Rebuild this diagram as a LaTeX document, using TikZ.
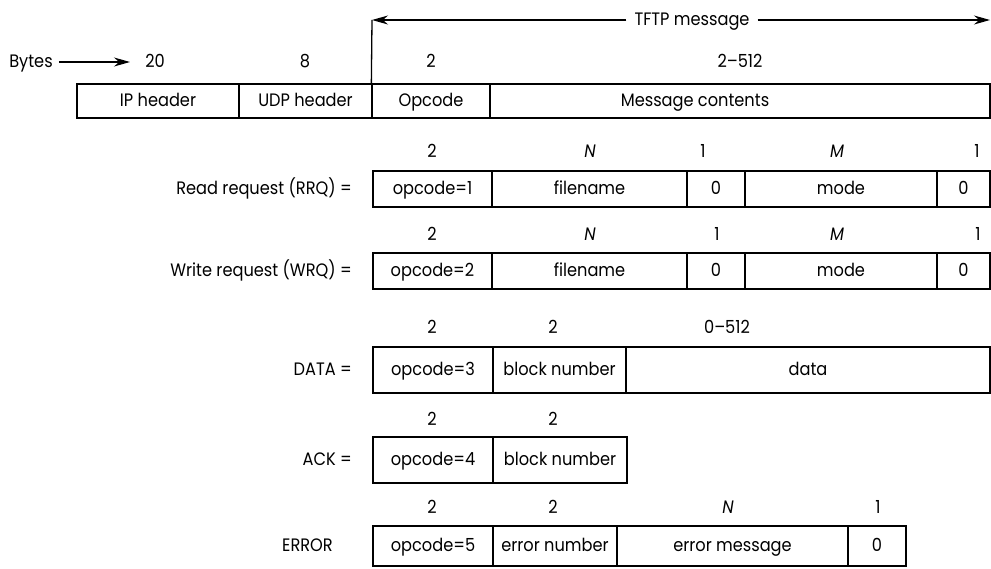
\documentclass[tikz,border=0pt]{standalone}
\usepackage{fontspec}
\setmainfont{Poppins}[FakeStretch=0.9]
\usetikzlibrary{arrows.meta}
\newcommand\fsz{\fontsize{18}{21}\selectfont}
\newcommand\fld[6]{\node[fld,minimum width=#3pt-#2pt,minimum height=#5pt-#4pt] (#1) at ({(#2+#3)/2},{(#4+#5)/2}) {#6};}
\begin{document}
\begin{tikzpicture}[x=1pt,y=-1pt,
  txt/.style={inner sep=0pt,font=\fsz,text height=11pt,text depth=0pt},
  fld/.style={txt,draw,line width=1.3pt},
  lbl/.style={txt},
  num/.style={txt},
  arr/.style={line width=1.2pt,-{Stealth[length=16pt,width=9pt]}}]
\useasboundingbox (0,0) rectangle (991,568);
% top row
\fld{ip}{77}{239}{84}{118}{IP header}
\fld{udp}{239}{372}{84}{118}{UDP header}
\fld{opc}{372}{490}{84}{118}{Opcode}
\fld{msg}{490}{990}{84}{118}{}
\node[lbl] (msgt) at (695,101) {Message contents};
\node[num] (n20) at (155,62) {20};
\node[num] (n8) at (305,62) {8};
\node[num] (n2a) at (431,62) {2};
\node[num] (n512) at (740,62) {2--512};
\node[lbl] (bytes) at (31,62) {Bytes};
\coordinate (bt) at (130,62);
\draw[arr] (bytes.east) ++(6pt,0) -- (bt);
% TFTP message
\coordinate (tl) at (372,20);
\coordinate (tr) at (990,20);
\node[lbl,inner xsep=8pt] (tftp) at (692,20) {TFTP message};
\draw[line width=1.3pt] (opc.north west) -- (tl);
\draw[arr] (tftp.west) -- (tl);
\draw[arr] (tftp.east) -- (tr);
% RRQ
\node[lbl,anchor=east] (rrq) at (352,189) {Read request (RRQ) =};
\fld{r1}{373}{492}{171}{207}{opcode=1}
\fld{r2}{492}{687}{171}{207}{filename}
\fld{r3}{687}{745}{171}{207}{0}
\fld{r4}{745}{937}{171}{207}{mode}
\fld{r5}{937}{990}{171}{207}{0}
\node[num] (rn1) at (432,152) {2};
\node[num] (rn2) at (590,152) {\textit{N}};
\node[num] (rn3) at (703,152) {1};
\node[num] (rn4) at (837,152) {\textit{M}};
\node[num] (rn5) at (977,152) {1};
% WRQ
\node[lbl,anchor=east] (wrq) at (352,271) {Write request (WRQ) =};
\fld{w1}{373}{492}{253}{289}{opcode=2}
\fld{w2}{492}{687}{253}{289}{filename}
\fld{w3}{687}{745}{253}{289}{0}
\fld{w4}{745}{937}{253}{289}{mode}
\fld{w5}{937}{990}{253}{289}{0}
\node[num] (wn1) at (432,235) {2};
\node[num] (wn2) at (590,235) {\textit{N}};
\node[num] (wn3) at (717,235) {1};
\node[num] (wn4) at (837,235) {\textit{M}};
\node[num] (wn5) at (978,235) {1};
% DATA
\node[lbl,anchor=east] (dat) at (352,370) {DATA =};
\fld{d1}{373}{493}{347}{393}{opcode=3}
\fld{d2}{493}{626}{347}{393}{block number}
\fld{d3}{626}{990}{347}{393}{data}
\node[num] (dn1) at (432,328) {2};
\node[num] (dn2) at (553,328) {2};
\node[num] (dn3) at (727,328) {0--512};
% ACK
\node[lbl,anchor=east] (ack) at (352,460) {ACK =};
\fld{a1}{373}{493}{437}{483}{opcode=4}
\fld{a2}{493}{627}{437}{483}{block number}
\node[num] (an1) at (432,420) {2};
\node[num] (an2) at (553,420) {2};
% ERROR
\node[lbl,anchor=east] (err) at (333,546) {ERROR};
\fld{e1}{373}{493}{526}{566}{opcode=5}
\fld{e2}{493}{617}{526}{566}{error number}
\fld{e3}{617}{848}{526}{566}{error message}
\fld{e4}{848}{906}{526}{566}{0}
\node[num] (en1) at (432,508) {2};
\node[num] (en2) at (553,508) {2};
\node[num] (en3) at (728,508) {\textit{N}};
\node[num] (en4) at (878,508) {1};
\end{tikzpicture}
\end{document}
